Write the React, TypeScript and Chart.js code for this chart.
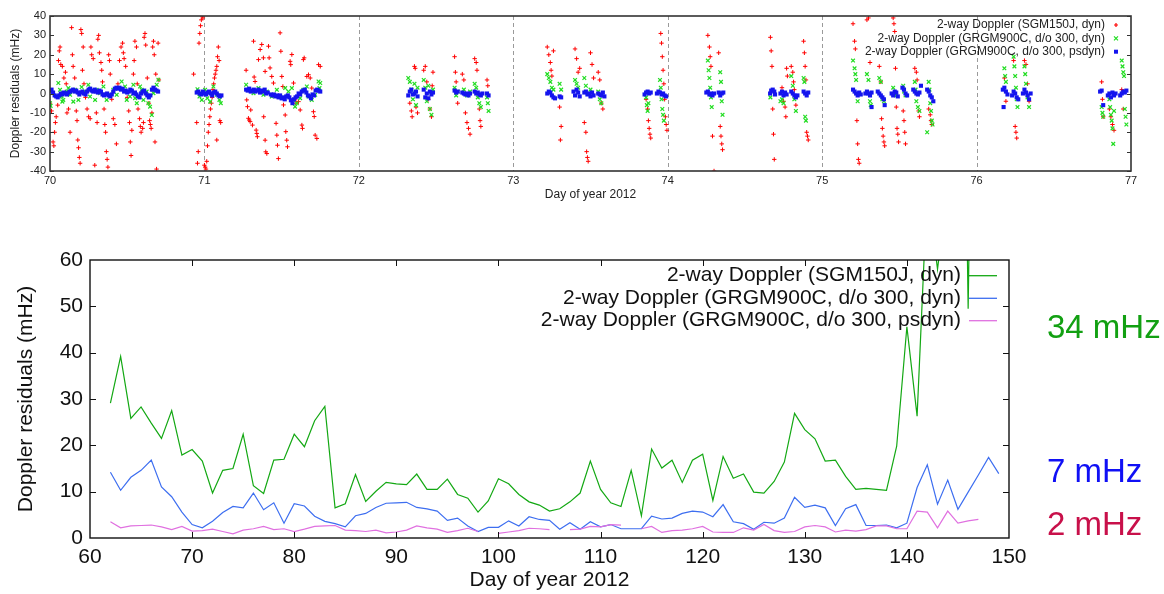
import React, { useEffect, useRef } from "react";
import { Chart, registerables } from "chart.js";
Chart.register(...registerables);

const FONT = "'Liberation Sans', Arial, Helvetica, sans-serif";

// ---------- Top panel: residuals, days 70-77 ----------
const topLegendLabels = [
  "2-way Doppler (SGM150J, dyn)",
  "2-way Doppler (GRGM900C, d/o 300, dyn)",
  "2-way Doppler (GRGM900C, d/o 300, psdyn)",
];
const topXTitle = "Day of year 2012";
const topYTitle = "Doppler residuals (mHz)";

const sgmResiduals: [number, number][] = [
  [70.0,-5],[70.01,-9],[70.02,-25],[70.025,-27],[70.03,-20],[70.035,-15],[70.04,-12],[70.05,-6],[70.055,17],[70.06,22],
  [70.065,24],[70.07,15],[70.08,14],[70.09,8],[70.1,11],[70.105,5],[70.11,-10],[70.12,-8],[70.13,-20],[70.14,34],
  [70.145,20],[70.15,14],[70.16,8],[70.17,-9],[70.175,-14],[70.18,-24],[70.185,-28],[70.19,-33],[70.195,-36],[70.2,33],
  [70.205,31],[70.21,12],[70.215,24],[70.22,5],[70.23,-2],[70.24,-8],[70.25,-12],[70.26,-13],[70.265,24],[70.27,20],
  [70.28,18],[70.29,-37],[70.3,-10],[70.305,-15],[70.31,28],[70.315,30],[70.32,21],[70.33,16],[70.335,12],[70.34,6],
  [70.35,-8],[70.355,-16],[70.36,-20],[70.365,-30],[70.37,-34],[70.375,-38],[70.38,20],[70.385,17],[70.39,10],[70.4,-3],
  [70.41,-13],[70.42,-16],[70.43,-26],[70.44,5],[70.45,17],[70.46,24],[70.47,26],[70.475,21],[70.48,18],[70.49,14],
  [70.5,-2],[70.51,-9],[70.515,-15],[70.52,-25],[70.525,-32],[70.53,-19],[70.54,10],[70.545,17],[70.55,27],[70.56,24],
  [70.565,5],[70.57,-8],[70.58,-13],[70.585,-17],[70.59,-20],[70.6,-18],[70.605,-15],[70.61,29],[70.615,31],[70.62,25],
  [70.63,8],[70.64,-5],[70.645,-14],[70.65,-16],[70.655,-18],[70.66,-10],[70.665,24],[70.67,27],[70.675,20],[70.68,-25],
  [70.685,10],[70.69,-39],[70.7,26],[70.705,7],
  [70.93,10],[70.95,-15],[70.955,-36],[70.96,-30],[70.965,26],[70.97,31],[70.975,35],[70.98,38],[70.985,40],[70.99,39],
  [71.0,-37],[71.005,-38],[71.01,-39],[71.015,-35],[71.02,-27],[71.025,-20],[71.03,-16],[71.035,-12],[71.04,-8],[71.045,-5],
  [71.05,-2],[71.055,2],[71.06,5],[71.065,8],[71.07,10],[71.075,12],[71.08,14],[71.085,19],[71.09,24],[71.095,17],
  [71.1,-14],[71.105,-15],[71.08,-24],
  [71.27,12],[71.274,-3.3],[71.279,-6.8],[71.285,-12.8],[71.29,-13.7],[71.296,-14.5],[71.3,-8.5],[71.311,-16.3],[71.318,27],[71.322,8.5],
  [71.328,6.2],[71.335,-18.9],[71.339,-20.6],[71.343,-22.3],[71.35,17.5],[71.361,22.7],[71.371,25.3],[71.382,18.4],[71.393,11.4],[71.384,-12],
  [71.393,-24.1],[71.397,-30.1],[71.404,-31],[71.415,24.4],[71.419,18.4],[71.425,13.2],[71.436,8.8],[71.447,5.4],[71.464,-15.4],[71.469,-21.5],
  [71.473,-26.7],[71.479,-33.6],[71.49,31.3],[71.495,21.8],[71.501,8.8],[71.508,3.6],[71.512,-5.9],[71.523,-11.1],[71.527,-19.7],[71.533,-24.1],
  [71.538,-27.5],[71.555,16.6],[71.559,14.9],[71.566,20.1],[71.577,5.4],[71.587,-3.3],[71.594,-5],[71.609,-4.2],[71.62,-8.5],[71.631,-16.3],
  [71.635,-18],[71.641,17.5],[71.646,18.4],[71.663,8.8],[71.674,9.7],[71.685,8],[71.695,2.8],[71.706,-9.4],[71.711,-11.9],[71.717,-21.5],
  [71.728,-23.2],[71.739,14.9],[71.75,14],
  [72.33,-5],[72.34,-9],[72.345,-12],[72.36,14],[72.365,13],[72.37,-7],[72.38,-10],
  [72.42,12],[72.43,14],[72.44,6],[72.45,-3],[72.46,-8],[72.47,-12],[72.48,11],[72.475,4],
  [72.62,19],[72.625,11],[72.63,6],[72.64,-5],
  [72.67,10],[72.68,7],[72.69,-10],[72.7,-15],[72.71,-18],[72.72,-21],
  [72.75,18],[72.76,16],[72.765,12],[72.78,-8],[72.785,-14],[72.79,-17],
  [72.83,7],[72.835,4],
  [73.22,24],[73.23,20],[73.24,16],[73.245,12],[73.25,9],[73.26,22],[73.3,-7],[73.31,-17],[73.305,-24],
  [73.4,23],[73.41,18],[73.42,11],[73.43,13],[73.46,-15],[73.47,-20],[73.475,-30],[73.48,-33],[73.485,-35],[73.5,21],
  [73.51,15],[73.52,8],[73.55,11],[73.56,7],[73.57,-5],[73.58,-8],
  [73.86,-3],[73.87,-8],[73.875,-14],[73.88,-18],[73.885,-21],[73.89,-23],[73.955,31],[73.96,26],[73.965,19],[73.97,12],
  [73.975,5],[73.98,-3],[73.985,-12],[73.99,-16],[73.995,-19],
  [74.26,30],[74.27,24],[74.275,19],[74.28,14],[74.29,-22],[74.3,-40],[74.33,21],[74.34,-17],[74.345,-22],[74.35,-26],[74.355,-29],
  [74.665,29],[74.67,22],[74.675,14],[74.68,-8],[74.685,-21],[74.69,-34],[74.74,3],[74.75,-4],[74.76,-7],[74.765,-12],
  [74.77,13],[74.775,9],[74.8,14],[74.81,11],[74.815,6],[74.82,2],[74.83,-6],[74.88,27],[74.885,21],[74.89,14],
  [74.895,7],[74.9,-20],[74.905,-22],[74.91,-24],
  [75.2,36],[75.21,27],[75.215,23],[75.225,-14],[75.23,-26],[75.235,-34],[75.24,-36],
  [75.29,38],[75.3,39],[75.31,16],
  [75.37,14],[75.38,6],[75.385,-13],[75.39,-18],[75.395,-22],[75.4,-25],[75.405,-27],
  [75.46,39],[75.465,36],[75.47,32],[75.475,13],[75.48,-7],[75.485,-18],[75.49,-21],[75.495,-25],
  [75.525,-9],[75.53,-14],[75.535,-20],[75.54,-26],
  [75.6,13],[75.61,11],[75.615,7],[75.625,-9],[75.63,-12],
  [75.69,-8],[75.7,-11],[75.705,-14],[75.71,-16],
  [76.18,8],[76.19,-4],[76.24,17],[76.25,-17],[76.255,-20],[76.26,-23],[76.31,17],[76.32,15],[76.33,5],[76.34,-4],
  [76.81,6],[76.815,-3],[76.82,-12],[76.86,-8],[76.87,-12],[76.88,-16],[76.89,-19],[76.94,2],[76.95,-8],
];

const grgmDynResiduals: [number, number][] = [
  [70.0,-5],[70.004,-6.4],[70.054,5.4],[70.065,1.9],[70.076,-1.6],[70.08,-4.2],[70.086,-3.3],[70.108,1],[70.119,2.8],[70.13,-0.7],
  [70.151,-4.2],[70.162,1.9],[70.184,-3.3],[70.205,3.3],[70.227,1],[70.248,4.5],[70.259,-1.6],[70.292,-3.3],[70.302,1.9],[70.324,0.2],
  [70.346,3.6],[70.367,-3.3],[70.389,-0.7],[70.41,1.9],[70.432,-0.7],[70.464,6.2],[70.486,3.6],[70.497,-3.3],[70.518,-1.6],[70.54,4.5],
  [70.551,-2.4],[70.562,-5],[70.583,3.6],[70.594,1.9],[70.605,-3.3],[70.626,1],[70.637,-5],[70.648,-6.8],[70.659,-11.1],[70.67,0.2],
  [70.691,4.5],[70.702,7.1],
  [70.955,2.2],[70.968,-1.6],[70.983,-3.3],[71.004,1.9],[71.019,-2.4],[71.037,-4.2],[71.058,3.6],[71.08,-0.7],[71.097,-3.3],[71.106,-5],
  [71.27,4.5],[71.285,1.9],[71.318,0.2],[71.35,2.8],[71.382,-0.7],[71.404,1],[71.436,-1.6],[71.469,1.9],[71.49,-1.6],[71.523,2.8],
  [71.544,1],[71.566,2.8],[71.577,-3.3],[71.587,-6.8],[71.598,-5],[71.62,-2.4],[71.641,1.9],[71.663,3.6],[71.674,-1.6],[71.695,-3.3],
  [71.717,-0.7],[71.739,6.2],[71.75,5.4],[71.745,2.8],
  [72.32,8],[72.33,6],[72.34,2],[72.35,-3],[72.36,5],[72.37,-6],[72.38,3],
  [72.42,7],[72.43,3],[72.44,-4],[72.45,4],[72.46,-8],[72.47,-11],[72.48,2],
  [72.62,3],[72.63,-1],[72.64,1],[72.68,2],[72.7,-1],[72.72,1],
  [72.75,5],[72.76,3],[72.77,-2],[72.78,-5],[72.79,-7],[72.83,-2],[72.835,-5],[72.84,-9],
  [73.22,10],[73.23,8],[73.24,6],[73.25,3],[73.26,2],[73.31,2],[73.3,5],
  [73.4,7],[73.41,5],[73.42,3],[73.46,8],[73.47,4],[73.5,2],[73.55,1],[73.56,-3],[73.57,-5],
  [73.86,-2],[73.865,-6],[73.87,-9],[73.875,-5],[73.95,7],[73.955,3],[73.96,-3],[73.965,-8],[73.97,-11],[73.975,-14],
  [74.26,17],[74.265,12],[74.27,8],[74.275,3],[74.28,-2],[74.285,-7],[74.34,11],[74.345,6],[74.35,-4],[74.355,-11],
  [74.665,-2],[74.73,-4],[74.74,-3],[74.75,-5],[74.8,9],[74.81,4],[74.82,-3],[74.83,-9],[74.88,8],[74.885,6],
  [74.89,-12],[74.895,-14],
  [75.2,17],[75.21,13],[75.215,10],[75.22,7],[75.23,-4],[75.29,10],[75.3,7],[75.31,-4],[75.315,-6],
  [75.37,8],[75.38,6],[75.39,-3],[75.4,-4],[75.46,3],[75.47,0],[75.48,-1],[75.525,4],[75.53,1],[75.54,-1],
  [75.6,6],[75.605,2],[75.61,-4],[75.62,-7],[75.63,-9],
  [75.69,6],[75.695,2],[75.7,-5],[75.705,-9],[75.71,-14],[75.715,-16],[75.68,-20],
  [76.18,13],[76.185,9],[76.19,6],[76.24,19],[76.245,14],[76.25,9],[76.255,3],[76.26,-3],[76.265,-7],
  [76.31,14],[76.315,10],[76.32,5],[76.33,-2],[76.34,-7],
  [76.81,-7],[76.815,-10],[76.82,-12],[76.86,-3],[76.865,-7],[76.87,-11],[76.875,-14],[76.88,-18],[76.885,-26],[76.89,-9],
  [76.94,17],[76.945,14],[76.95,11],[76.955,9],[76.96,-8],[76.965,-12],[76.97,-16],
];

const grgmPsdynResiduals: [number, number][] = [
  [70.0,1.5],[70.01,2],[70.02,0.5],[70.03,-1],[70.04,-1.5],[70.05,-2],[70.06,-1],[70.07,0],[70.08,-0.5],[70.09,0.5],
  [70.1,0],[70.11,-0.5],[70.12,0.5],[70.13,1],[70.14,1.5],[70.15,2],[70.16,1],[70.17,1.5],[70.18,0.5],[70.19,-0.5],
  [70.2,0.5],[70.21,1],[70.22,0],[70.23,-0.5],[70.24,1],[70.25,2],[70.26,2.5],[70.27,1.5],[70.28,1],[70.29,2],
  [70.3,1],[70.31,0.5],[70.32,1.5],[70.33,1],[70.34,-0.5],[70.35,-1],[70.36,-0.5],[70.37,0],[70.38,-1],[70.39,-1.5],
  [70.4,-0.5],[70.41,1],[70.42,2.5],[70.43,3],[70.44,2.5],[70.45,3],[70.46,2],[70.47,2.5],[70.48,1],[70.49,1.5],
  [70.5,0.5],[70.51,1],[70.52,2],[70.53,1.5],[70.54,0],[70.55,0.5],[70.56,-0.5],[70.57,-1.5],[70.58,-2],[70.59,0],
  [70.6,1],[70.61,1.5],[70.62,0],[70.63,-1],[70.64,-2],[70.65,-1],[70.66,2],[70.67,3],[70.68,2],[70.69,1.5],[70.7,1],
  [70.95,0.5],[70.96,1],[70.97,0],[70.98,-0.5],[70.99,1],[71.0,0],[71.01,-0.5],[71.02,0.5],[71.03,1],[71.04,0],
  [71.05,-1],[71.06,0.5],[71.07,1],[71.08,0],[71.09,-1],[71.1,-1.5],[71.11,-1],
  [71.27,2],[71.28,1.5],[71.29,2.5],[71.3,1],[71.31,1.5],[71.32,2],[71.33,1],[71.34,1.5],[71.35,2],[71.36,0.5],
  [71.37,1.5],[71.38,1],[71.39,2],[71.4,0],[71.41,0.5],[71.43,-0.5],[71.44,-1],[71.45,-0.5],[71.46,-1.5],[71.47,-1],
  [71.48,-2],[71.49,-1],[71.5,-2.5],[71.51,-2],[71.52,-3],[71.53,-1.5],[71.54,-1],[71.55,-2],[71.56,-3.5],[71.57,-5],
  [71.58,-3],[71.59,-2],[71.6,-1.5],[71.61,0],[71.62,-0.5],[71.63,1],[71.64,1.5],[71.65,2],[71.66,0.5],[71.67,-1],
  [71.68,-1.5],[71.69,-2.5],[71.7,-0.5],[71.71,-1],[71.72,1.5],[71.73,2],[71.74,1.5],[71.75,1],
  [72.32,-1],[72.33,1],[72.34,2],[72.35,-0.5],[72.36,0],[72.37,1],[72.38,-1.5],
  [72.42,2],[72.43,-2],[72.44,0],[72.45,-2.5],[72.46,1],[72.47,-0.5],[72.48,0.5],
  [72.62,1.5],[72.63,0.5],[72.64,1],[72.67,0.5],[72.68,0],[72.69,-0.5],[72.7,0],[72.71,-1],[72.72,0],
  [72.75,1],[72.76,0],[72.77,0.5],[72.78,-0.5],[72.79,-1],[72.8,0],[72.83,0],[72.84,-1],
  [73.22,0],[73.23,1],[73.24,0.5],[73.25,-1],[73.26,-2],[73.27,-2.5],[73.3,-1.5],[73.31,-2],
  [73.39,1],[73.4,-1],[73.41,2],[73.42,0.5],[73.43,-1.5],[73.46,0.5],[73.47,1],[73.48,-0.5],[73.49,0],[73.5,-1.5],
  [73.51,0.5],[73.52,-1],[73.55,0],[73.56,-0.5],[73.57,-1],[73.58,0.5],[73.59,-1.5],
  [73.85,-0.5],[73.86,0.5],[73.87,1],[73.88,0],[73.89,0.5],[73.93,0],[73.94,1],[73.95,0.5],[73.96,-0.5],[73.97,0],
  [73.98,-1],[73.99,-1.5],
  [74.25,0.5],[74.26,1],[74.27,-0.5],[74.28,0],[74.29,-1],[74.3,0],[74.33,0.5],[74.34,-1],[74.35,0],[74.36,0.5],
  [74.663,0],[74.67,1.5],[74.68,2],[74.69,1],[74.695,-0.5],[74.73,0],[74.74,1],[74.75,-1],[74.76,0.5],[74.77,-0.5],
  [74.8,1],[74.81,0],[74.82,-1],[74.83,-2],[74.84,-1],[74.88,1],[74.89,0],[74.9,-1],[74.91,0.5],
  [75.2,2],[75.21,1],[75.22,0],[75.23,-1],[75.24,0.5],[75.25,-0.5],
  [75.28,0],[75.29,1],[75.3,0],[75.31,-1],[75.32,0.5],[75.32,-7],
  [75.36,1],[75.37,0],[75.38,-1],[75.39,-2],[75.4,-3],[75.405,-6],
  [75.45,0],[75.46,-1],[75.47,1],[75.48,0.5],[75.49,-1.5],[75.52,3],[75.53,2],[75.54,0],[75.55,-1],
  [75.59,2],[75.6,1],[75.61,0],[75.62,-0.5],[75.63,0.5],[75.64,4],
  [75.68,2],[75.69,1],[75.7,-1],[75.71,-2],[75.72,-4],
  [76.17,2],[76.18,3],[76.19,1],[76.2,-0.5],[76.175,-7],
  [76.23,-1],[76.24,1],[76.25,0],[76.26,-2],[76.27,-3],
  [76.3,0],[76.31,2],[76.32,0.5],[76.33,-1],[76.34,-3],[76.35,0],
  [76.8,1],[76.81,1.5],[76.82,-6],[76.85,-1],[76.86,0],[76.87,-2],[76.88,0.5],[76.89,-1],[76.9,0],
  [76.93,-1],[76.94,0],[76.95,1],[76.96,0.5],[76.97,1.5],
];

// ---------- Bottom panel: daily RMS, days 62-149 ----------
const bottomDays = [
  62,63,64,65,66,67,68,69,70,71,
  72,73,74,75,76,77,78,79,80,81,
  82,83,84,85,86,87,88,89,90,91,
  92,93,94,95,96,97,98,99,100,101,
  102,103,104,105,106,107,108,109,110,111,
  112,113,114,115,116,117,118,119,120,121,
  122,123,124,125,126,127,128,129,130,131,
  132,133,134,135,136,137,138,139,140,141,
  142,143,144,145,146,147,148,149,
];
const sgm150jRms: (number | null)[] = [
  29.1,39.2,25.8,28.3,24.8,21.5,27.5,17.9,19.1,16.6,
  9.7,14.6,15.0,22.4,11.3,9.6,16.8,17.0,22.4,19.7,
  25.3,28.4,6.5,7.4,13.7,7.9,10.1,12.0,11.7,11.5,
  13.8,10.5,10.5,12.7,9.4,8.6,5.6,8.0,12.8,11.7,
  9.4,7.8,7.1,5.8,6.3,7.8,9.7,16.6,10.5,7.6,
  6.8,14.6,4.8,19.2,15.1,16.8,12.0,16.8,18.1,8.1,
  17.6,12.9,13.8,9.9,9.7,12.2,16.4,26.9,23.4,21.4,
  16.6,16.8,13.3,10.5,10.7,10.5,10.3,19.8,45.6,26.3,
  76,58,76,200,49.5,200,null,null,
];
const grgmDynRms: (number | null)[] = [
  14.2,10.3,13.1,14.6,16.8,11.0,8.9,5.6,2.9,2.2,
  3.6,5.5,6.8,6.5,9.7,6.1,7.6,3.2,7.4,6.9,
  4.7,3.6,3.1,2.4,4.8,5.3,6.6,7.5,7.6,7.7,
  6.6,6.3,5.8,3.8,4.3,2.6,1.4,2.3,2.3,3.7,
  2.6,4.6,4.0,3.8,1.9,3.3,1.9,3.5,2.4,2.9,
  2.0,2.0,2.0,4.7,4.1,4.3,5.3,5.8,5.6,4.6,
  7.2,3.5,3.1,1.9,3.4,3.2,4.3,8.8,6.6,7.1,
  6.5,2.7,6.3,7.2,2.7,2.7,2.8,2.2,3.2,10.9,
  15.8,7.3,12.5,6.2,9.9,13.6,17.4,13.9,
];
const grgmPsdynRms: (number | null)[] = [
  3.5,2.2,2.6,2.7,2.8,2.4,1.8,2.5,1.5,1.6,
  1.9,1.4,0.9,1.7,2.0,2.5,1.8,2.0,1.4,1.9,
  2.5,2.6,2.7,1.7,1.6,1.4,1.7,1.1,1.3,1.7,
  2.6,2.2,1.9,1.2,1.6,2.1,1.4,null,1.0,1.3,
  1.6,2.1,2.0,1.8,null,1.8,1.9,2.5,2.4,2.9,
  2.8,null,2.0,2.5,1.2,1.6,1.7,2.0,2.5,1.3,
  1.2,1.2,2.2,1.7,2.9,1.6,1.2,1.4,2.4,2.7,
  2.4,1.3,1.7,1.5,1.8,2.6,2.6,2.0,2.0,5.8,
  5.6,2.2,5.8,3.2,3.7,4.0,null,null,
];
const rmsLabels = ["34 mHz", "7 mHz", "2 mHz"];
const rmsLabelColors = ["#12a012", "#1010f5", "#c8104a"];
const bottomLineColors = ["#13a813", "#3d6ef0", "#e070e0"];

function toPoints(pairs: [number, number][]) {
  return pairs.map(([x, y]) => ({ x, y }));
}
function toSeries(days: number[], vals: (number | null)[]) {
  return days.map((d, i) => ({ x: d, y: vals[i] }));
}

const topDecor = {
  id: "topDecor",
  beforeDatasetsDraw(chart: any) {
    const { ctx, chartArea: a, scales } = chart;
    ctx.save();
    ctx.strokeStyle = "#9a9a9a";
    ctx.lineWidth = 1;
    ctx.setLineDash([4, 3]);
    for (const t of scales.x.ticks) {
      if (t.value <= scales.x.min || t.value >= scales.x.max) continue;
      const px = Math.round(scales.x.getPixelForValue(t.value)) + 0.5;
      ctx.beginPath();
      ctx.moveTo(px, a.top);
      ctx.lineTo(px, a.bottom);
      ctx.stroke();
    }
    ctx.restore();
  },
  afterDatasetsDraw(chart: any) {
    const { ctx, chartArea: a, scales } = chart;
    ctx.save();
    ctx.strokeStyle = "#333";
    ctx.lineWidth = 1;
    for (const t of scales.y.ticks) {
      const py = Math.round(scales.y.getPixelForValue(t.value)) + 0.5;
      ctx.beginPath();
      ctx.moveTo(a.left, py); ctx.lineTo(a.left + 4, py);
      ctx.moveTo(a.right, py); ctx.lineTo(a.right - 4, py);
      ctx.stroke();
    }
    ctx.lineWidth = 1.6;
    ctx.strokeRect(a.left, a.top, a.right - a.left, a.bottom - a.top);
    // legend
    ctx.font = `12px ${FONT}`;
    ctx.fillStyle = "#222";
    ctx.textAlign = "right";
    ctx.textBaseline = "middle";
    const rows = [25, 38.3, 51.7];
    const mx = 1116;
    chart.data.datasets.forEach((ds: any, i: number) => {
      const y = rows[i];
      ctx.fillText(topLegendLabels[i], 1105, y);
      ctx.strokeStyle = ds.borderColor;
      ctx.fillStyle = ds.backgroundColor;
      ctx.lineWidth = 1.2;
      ctx.beginPath();
      if (i === 0) {
        ctx.moveTo(mx - 2, y); ctx.lineTo(mx + 2, y);
        ctx.moveTo(mx, y - 2); ctx.lineTo(mx, y + 2);
        ctx.stroke();
      } else if (i === 1) {
        ctx.moveTo(mx - 2, y - 2); ctx.lineTo(mx + 2, y + 2);
        ctx.moveTo(mx - 2, y + 2); ctx.lineTo(mx + 2, y - 2);
        ctx.stroke();
      } else {
        ctx.fillRect(mx - 2, y - 2, 4, 4);
      }
      ctx.fillStyle = "#222";
    });
    ctx.restore();
  },
};

const bottomDecor = {
  id: "bottomDecor",
  afterDatasetsDraw(chart: any) {
    const { ctx, chartArea: a, scales } = chart;
    ctx.save();
    ctx.strokeStyle = "#111";
    ctx.lineWidth = 1;
    for (const t of scales.x.ticks) {
      if (t.value <= scales.x.min || t.value >= scales.x.max) continue;
      const px = Math.round(scales.x.getPixelForValue(t.value)) + 0.5;
      ctx.beginPath();
      ctx.moveTo(px, a.bottom); ctx.lineTo(px, a.bottom - 6);
      ctx.moveTo(px, a.top); ctx.lineTo(px, a.top + 6);
      ctx.stroke();
    }
    for (const t of scales.y.ticks) {
      if (t.value <= scales.y.min || t.value >= scales.y.max) continue;
      const py = Math.round(scales.y.getPixelForValue(t.value)) + 0.5;
      ctx.beginPath();
      ctx.moveTo(a.left, py); ctx.lineTo(a.left + 6, py);
      ctx.moveTo(a.right, py); ctx.lineTo(a.right - 6, py);
      ctx.stroke();
    }
    ctx.lineWidth = 1.4;
    ctx.strokeRect(a.left, a.top, a.right - a.left, a.bottom - a.top);
    // legend
    ctx.font = `21px ${FONT}`;
    ctx.textAlign = "right";
    ctx.textBaseline = "middle";
    const rows = [45.7, 68.3, 90.7];
    chart.data.datasets.forEach((ds: any, i: number) => {
      const y = rows[i];
      ctx.fillStyle = "#111";
      ctx.fillText(ds.label, 961, y);
      ctx.strokeStyle = ds.borderColor;
      ctx.lineWidth = 1.3;
      ctx.beginPath();
      ctx.moveTo(969, y); ctx.lineTo(997, y);
      ctx.stroke();
    });
    // rms labels on the right
    ctx.font = `33px ${FONT}`;
    ctx.textAlign = "left";
    ctx.textBaseline = "alphabetic";
    const baselines = [108.3, 251.7, 305];
    rmsLabels.forEach((t, i) => {
      ctx.fillStyle = rmsLabelColors[i];
      ctx.fillText(t, 1047, baselines[i]);
    });
    ctx.restore();
  },
};

function TopChart() {
  const ref = useRef<HTMLCanvasElement>(null);
  useEffect(() => {
    const chart = new Chart(ref.current!, {
      type: "scatter",
      data: {
        datasets: [
          {
            label: topLegendLabels[0],
            data: toPoints(sgmResiduals),
            pointStyle: "cross",
            pointRadius: 2.2,
            borderWidth: 1,
            borderColor: "#ff0000",
            backgroundColor: "#ff0000",
            order: 2,
          },
          {
            label: topLegendLabels[1],
            data: toPoints(grgmDynResiduals),
            pointStyle: "crossRot",
            pointRadius: 2.6,
            borderWidth: 1.2,
            borderColor: "#22dd22",
            backgroundColor: "#22dd22",
            order: 1,
          },
          {
            label: topLegendLabels[2],
            data: toPoints(grgmPsdynResiduals),
            pointStyle: "rect",
            pointRadius: 2.9,
            borderWidth: 0,
            borderColor: "#1414ee",
            backgroundColor: "#1414ee",
            order: 0,
          },
        ],
      },
      options: {
        animation: false,
        responsive: false,
        events: [],
        layout: { padding: { top: 16, right: 33, bottom: 0, left: 0 } },
        plugins: { legend: { display: false }, tooltip: { enabled: false } },
        scales: {
          x: {
            type: "linear",
            min: 70,
            max: 77,
            afterFit: (s: any) => { s.height = 39; },
            ticks: { stepSize: 1, autoSkip: false, maxRotation: 0, padding: 3, color: "#222", font: { family: FONT, size: 11 } },
            grid: { display: false, drawTicks: false },
            border: { display: false },
            title: { display: true, text: topXTitle, color: "#222", font: { family: FONT, size: 12 }, padding: { top: 0, bottom: 8 } },
          },
          y: {
            type: "linear",
            min: -40,
            max: 40,
            afterFit: (s: any) => { s.width = 50; },
            ticks: { stepSize: 10, autoSkip: false, padding: 4, color: "#222", font: { family: FONT, size: 11 } },
            grid: { display: false, drawTicks: false },
            border: { display: false },
            title: { display: true, text: topYTitle, color: "#222", font: { family: FONT, size: 12 }, padding: { top: 8, bottom: 0 } },
          },
        },
      } as any,
      plugins: [topDecor],
    });
    return () => chart.destroy();
  }, []);
  return <canvas ref={ref} width={1164} height={210} style={{ position: "absolute", left: 0, top: 0, width: 1164, height: 210 }} />;
}

function BottomChart() {
  const ref = useRef<HTMLCanvasElement>(null);
  useEffect(() => {
    const mk = (label: string, vals: (number | null)[], color: string, order: number) => ({
      label,
      data: toSeries(bottomDays, vals),
      borderColor: color,
      backgroundColor: color,
      borderWidth: 1.2,
      pointRadius: 0,
      spanGaps: false,
      tension: 0,
      order,
    });
    const chart = new Chart(ref.current!, {
      type: "line",
      data: {
        datasets: [
          mk(topLegendLabels[0], sgm150jRms, bottomLineColors[0], 2),
          mk(topLegendLabels[1], grgmDynRms, bottomLineColors[1], 1),
          mk(topLegendLabels[2], grgmPsdynRms, bottomLineColors[2], 0),
        ],
      },
      options: {
        animation: false,
        responsive: false,
        events: [],
        layout: { padding: { top: 30, right: 155, bottom: 0, left: 0 } },
        plugins: { legend: { display: false }, tooltip: { enabled: false } },
        scales: {
          x: {
            type: "linear",
            min: 60,
            max: 150,
            afterFit: (s: any) => { s.height = 56; },
            ticks: { stepSize: 10, autoSkip: false, maxRotation: 0, padding: 7, color: "#111", font: { family: FONT, size: 21 } },
            grid: { display: false, drawTicks: false },
            border: { display: false },
            title: { display: true, text: topXTitle, color: "#111", font: { family: FONT, size: 21 }, padding: { top: 0, bottom: 1.5 } },
          },
          y: {
            type: "linear",
            min: 0,
            max: 60,
            afterFit: (s: any) => { s.width = 90; },
            ticks: { stepSize: 10, autoSkip: false, padding: 7, color: "#111", font: { family: FONT, size: 21 } },
            grid: { display: false, drawTicks: false },
            border: { display: false },
            title: { display: true, text: topYTitle, color: "#111", font: { family: FONT, size: 21 }, padding: { top: 13.4, bottom: 0 } },
          },
        },
      } as any,
      plugins: [bottomDecor],
    });
    return () => chart.destroy();
  }, []);
  return <canvas ref={ref} width={1164} height={364} style={{ position: "absolute", left: 0, top: 230, width: 1164, height: 364 }} />;
}

export default function App() {
  return (
    <div style={{ position: "absolute", left: 0, top: 0, width: 1164, height: 594, background: "#fff", overflow: "hidden" }}>
      <TopChart />
      <BottomChart />
    </div>
  );
}
